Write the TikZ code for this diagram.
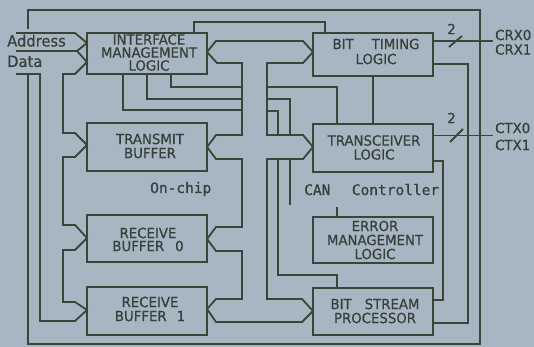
\documentclass[tikz,border=0pt]{standalone}
\usepackage{fontspec}
\setmainfont{DejaVu Sans}
\newfontfamily\boxfont{DejaVu Sans}[FakeBold=0.5,FakeStretch=0.95]
\newfontfamily\monofont{DejaVu Sans Mono}[FakeBold=0.5]
\definecolor{bgc}{RGB}{167,182,194}
\definecolor{ink}{RGB}{56,70,56}
\definecolor{txt}{RGB}{52,64,58}
\begin{document}
\begin{tikzpicture}[x=1pt,y=-1pt,
  wire/.style={draw=ink,line width=1.8pt,line join=miter},
  frame/.style={draw=ink,line width=2.6pt},
  box/.style={draw=ink,line width=1.8pt,rectangle,inner sep=0pt,outer sep=0pt,minimum width=120pt},
  lbl/.style={text=txt,font=\boxfont\fontsize{14}{14}\selectfont,align=center,inner sep=0pt},
  io/.style={text=txt,font=\boxfont\fontsize{15.5}{15.5}\selectfont,inner sep=0pt},
  pin/.style={text=txt,font=\boxfont\fontsize{14}{14}\selectfont,inner sep=0pt,anchor=west},
  mono/.style={text=txt,font=\monofont\fontsize{14.5}{14.5}\selectfont,inner sep=0pt,anchor=base west}]
\useasboundingbox (0,0) rectangle (534,347);
\fill[bgc] (0,0) rectangle (534,347);

% boxes
\node[box,minimum height=41pt] (iml) at (147,53.5) {};
\node[box,minimum height=43pt] (btl) at (373,54.5) {};
\node[box,minimum height=48pt] (tb)  at (147,147) {};
\node[box,minimum height=48pt] (tl)  at (373,148) {};
\node[box,minimum height=47pt] (rb0) at (147,238.5) {};
\node[box,minimum height=48pt] (rb1) at (147,311) {};
\node[box,minimum height=46pt] (eml) at (373,240) {};
\node[box,minimum height=47pt] (bsp) at (373,311.5) {};

% labels
\node[lbl,font=\boxfont\fontsize{14}{13}\selectfont] (imlT) at (149,52.5) {INTERFACE\\MANAGEMENT\\LOGIC};
\node[lbl,font=\boxfont\fontsize{14}{15}\selectfont] (btlT) at (376,51.5) {BIT\hspace{18pt}TIMING\\LOGIC};
\node[lbl] (tbT)  at (150,146) {TRANSMIT\\BUFFER};
\node[lbl] (tlT)  at (374,147.5) {TRANSCEIVER\\LOGIC};
\node[lbl,font=\boxfont\fontsize{14}{13}\selectfont] (rb0T) at (148,239.5) {RECEIVE\\BUFFER\hspace{11pt}0};
\node[lbl] (rb1T) at (150,309) {RECEIVE\\BUFFER\hspace{10pt}1};
\node[lbl] (emlT) at (375,240) {ERROR\\MANAGEMENT\\LOGIC};
\node[lbl] (bspT) at (375,311) {BIT\hspace{13pt}STREAM\\PROCESSOR};
\node[mono] (onchip) at (150,193) {On-chip};
\node[mono] (canc) at (304,195) {CAN\hspace{21.5pt}Controller};
\node[io,anchor=base west] (addr) at (7,46.5) {Address};
\node[io,anchor=base west] (data) at (7,67) {Data};
\node[pin] (crx0) at (495,35) {CRX0};
\node[pin] (crx1) at (495,49.5) {CRX1};
\node[pin] (ctx0) at (495,128) {CTX0};
\node[pin] (ctx1) at (495,145) {CTX1};
\node[lbl] (n2a) at (451.5,29) {2};
\node[lbl] (n2b) at (451.5,118) {2};

% outer frame
\draw[frame] (28,29) -- (28,10) -- (480,10) -- (480,344) -- (28,344) -- (28,74);

% address / data bus and left bus
\draw[wire] (16,33) -- (75,33) -- (iml.west |- 0,43) -- (77,51)
  -- (iml.west |- 0,62) -- (75,74) -- (63,74) -- (63,133) -- (75,133)
  -- (tb.west |- 0,145) -- (75,157) -- (63,157) -- (63,225) -- (75,225)
  -- (rb0.west |- 0,238) -- (75,250) -- (63,250) -- (63,302) -- (75,302)
  -- (rb1.west |- 0,310) -- (75,321) -- (40,321) -- (40,74) -- (16,74);
\draw[wire] (16,51) -- (77,51);

% central bus outline
\draw[wire] (iml.east |- 0,52) -- (216,41) -- (303,41) -- (btl.west |- 0,52)
  -- (303,63) -- (267,63) -- (267,135) -- (303,135) -- (tl.west |- 0,147)
  -- (303,159) -- (267,159) -- (267,299) -- (302,299) -- (bsp.west |- 0,311)
  -- (302,322) -- (216,322) -- (rb1.east |- 0,309) -- (216,299) -- (242,299)
  -- (242,251) -- (216,251) -- (rb0.east |- 0,239) -- (216,227) -- (242,227)
  -- (242,159) -- (216,159) -- (tb.east |- 0,147) -- (216,135) -- (242,135)
  -- (242,63) -- (217,63) -- cycle;

% control lines from IML
\draw[wire] (iml.south -| 123,0) -- (123,110) -- (242,110);
\draw[wire] (iml.south -| 147,0) -- (147,99) -- (242,99);
\draw[wire] (iml.south -| 171,0) -- (171,87) -- (242,87);
\draw[wire] (iml.north -| 194,0) -- (194,22) -- (325,22) -- (btl.north -| 325,0);

% right side of bus
\draw[wire] (267,87) -- (337,87) -- (tl.north -| 337,0);
\draw[wire] (267,99) -- (290,99) -- (290,135);
\draw[wire] (267,111) -- (278,111) -- (278,135);
\draw[wire] (278,159) -- (278,275) -- (337,275) -- (bsp.north -| 337,0);
\coordinate (endA) at (290,205);
\coordinate (endB) at (337,207);
\draw[wire] (290,159) -- (endA);
\draw[wire] (endB) -- (eml.north -| 337,0);
\draw[wire] (btl.south -| 373,0) -- (tl.north -| 373,0);

% right-hand connections
\coordinate (crxEnd) at (493,41);
\coordinate (ctxEnd) at (493,135.5);
\draw[wire] (btl.east |- crxEnd) -- (crxEnd);
\draw[wire] (449,47) -- (462,36);
\draw[wire] (tl.east |- ctxEnd) -- (ctxEnd);
\draw[wire] (450,142) -- (463,129);
\draw[wire] (btl.east |- 0,64) -- (468,64) -- (468,323) -- (bsp.east |- 0,323);
\draw[wire] (tl.east |- 0,161) -- (443,161) -- (443,300) -- (bsp.east |- 0,300);
\end{tikzpicture}
\end{document}
